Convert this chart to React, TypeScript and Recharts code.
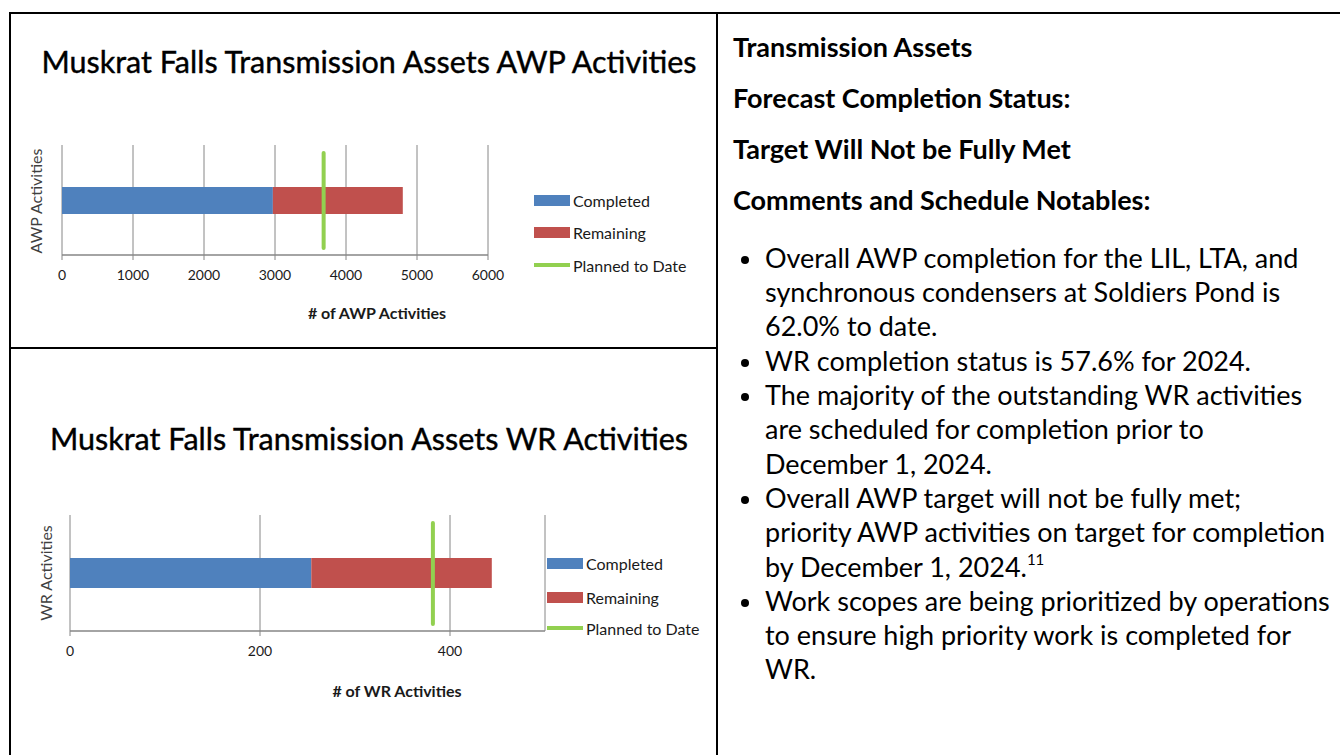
import React from 'react';
import { BarChart, Bar, XAxis, YAxis, CartesianGrid, ReferenceLine } from 'recharts';

const categories = ['AWP Activities', 'WR Activities'];
const completed = [2970, 254];
const remaining = [1830, 190];
const plannedToDate = [3685, 382];
const awpTicks = [0, 1000, 2000, 3000, 4000, 5000, 6000];
const wrTicks = [0, 200, 400];
const axisMax = [6000, 500];
const seriesNames = ['Completed', 'Remaining', 'Planned to Date'];
const chartTitles = [
  'Muskrat Falls Transmission Assets AWP Activities',
  'Muskrat Falls Transmission Assets WR Activities',
];
const axisTitles = ['# of AWP Activities', '# of WR Activities'];

const headings = [
  'Transmission Assets',
  'Forecast Completion Status:',
  'Target Will Not be Fully Met',
  'Comments and Schedule Notables:',
];
const bullets: string[][] = [
  ['Overall AWP completion for the LIL, LTA, and', 'synchronous condensers at Soldiers Pond is', '62.0% to date.'],
  ['WR completion status is 57.6% for 2024.'],
  ['The majority of the outstanding WR activities', 'are scheduled for completion prior to', 'December 1, 2024.'],
  ['Overall AWP target will not be fully met;', 'priority AWP activities on target for completion', 'by December 1, 2024.'],
  ['Work scopes are being prioritized by operations', 'to ensure high priority work is completed for', 'WR.'],
];
const footnote = { bullet: 3, mark: '11' };

const COLORS = { completed: '#4F81BD', remaining: '#C0504D', planned: '#92D050', grid: '#868686' };
const FONT = 'Lato, Calibri, "Noto Sans", sans-serif';

type Geo = {
  top: number; height: number; left: number; right: number; plotTop: number; plotBottom: number;
  barSize: number; titleY: number; axisTitle: [number, number]; yLabel: [number, number];
  legend: [number, number, number[]];
};

const geos: Geo[] = [
  { top: 0, height: 340, left: 62, right: 488, plotTop: 145, plotBottom: 255, barSize: 27, titleY: 61,
    axisTitle: [377, 312], yLabel: [35, 201], legend: [534, 573, [200, 232, 265]] },
  { top: 349, height: 400, left: 70, right: 545, plotTop: 515, plotBottom: 631, barSize: 30, titleY: 438,
    axisTitle: [397, 690], yLabel: [45, 573], legend: [547, 586, [563, 597, 628]] },
];

const PlannedShape = (p: any) => (
  <line x1={p.x1} x2={p.x2} y1={Math.min(p.y1, p.y2) + 8} y2={Math.max(p.y1, p.y2) - 7}
    stroke={COLORS.planned} strokeWidth={4} strokeLinecap="round" />
);

function ActivityChart({ i }: { i: number }) {
  const g = geos[i];
  const data = [{ name: categories[i], completed: completed[i], remaining: remaining[i] }];
  const ticks = i === 0 ? awpTicks : wrTicks;
  const legendColors = [COLORS.completed, COLORS.remaining, COLORS.planned];
  return (
    <>
      <div style={{ position: 'absolute', left: 369, top: g.titleY, transform: 'translate(-50%,-50%)', whiteSpace: 'nowrap',
        fontFamily: FONT, fontSize: 30.5, color: '#000', WebkitTextStroke: '0.4px #000' }}>{chartTitles[i]}</div>
      <div style={{ position: 'absolute', left: 0, top: g.top }}>
        <BarChart layout="vertical" width={720} height={g.height} data={data}
          margin={{ top: g.plotTop - g.top, bottom: g.top + g.height - g.plotBottom - 30, left: g.left, right: 720 - g.right }}>
          <CartesianGrid horizontal={false} stroke={COLORS.grid} />
          <XAxis type="number" domain={[0, axisMax[i]]} ticks={ticks} height={30} interval={0}
            axisLine={{ stroke: COLORS.grid, strokeWidth: 1.5 }} tickLine={{ stroke: COLORS.grid }} tickSize={5} tickMargin={10}
            tick={{ fontSize: 14, fill: '#1a1a1a', fontFamily: FONT }} />
          <YAxis type="category" dataKey="name" hide />
          <Bar dataKey="completed" stackId="a" fill={COLORS.completed} barSize={g.barSize} isAnimationActive={false} />
          <Bar dataKey="remaining" stackId="a" fill={COLORS.remaining} barSize={g.barSize} isAnimationActive={false} />
          <ReferenceLine x={plannedToDate[i]} shape={PlannedShape} />
        </BarChart>
      </div>
      <div style={{ position: 'absolute', left: g.axisTitle[0], top: g.axisTitle[1], transform: 'translate(-50%,-50%)',
        whiteSpace: 'nowrap', fontFamily: FONT, fontSize: 16, fontWeight: 700, color: '#1a1a1a' }}>{axisTitles[i]}</div>
      <div style={{ position: 'absolute', left: g.yLabel[0], top: g.yLabel[1], transform: 'translate(-50%,-50%) rotate(-90deg)',
        whiteSpace: 'nowrap', fontFamily: FONT, fontSize: 16, color: '#404040' }}>{categories[i]}</div>
      {seriesNames.map((s, k) => (
        <div key={s} style={{ position: 'absolute', left: g.legend[0], top: g.legend[2][k] - 11, height: 22,
          display: 'flex', alignItems: 'center', fontFamily: FONT, fontSize: 16, color: '#1a1a1a', whiteSpace: 'nowrap' }}>
          <span style={{ display: 'inline-block', width: g.legend[1] - g.legend[0] - 3, height: k === 2 ? 4 : 11,
            background: legendColors[k], marginRight: 3 }} />
          {s}
        </div>
      ))}
    </>
  );
}

export default function App() {
  const lineH = 34.3;
  let lineIdx = 0;
  return (
    <div style={{ position: 'absolute', left: 0, top: 0, width: 1340, height: 755, overflow: 'hidden', background: '#fff' }}>
      <div style={{ position: 'absolute', left: 9, top: 12, width: 1400, height: 2, background: '#000' }} />
      <div style={{ position: 'absolute', left: 9, top: 12, width: 2, height: 800, background: '#000' }} />
      <div style={{ position: 'absolute', left: 716, top: 12, width: 2, height: 800, background: '#000' }} />
      <div style={{ position: 'absolute', left: 9, top: 347, width: 709, height: 2, background: '#000' }} />
      <ActivityChart i={0} />
      <ActivityChart i={1} />
      {headings.map((h, k) => (
        <div key={h} style={{ position: 'absolute', left: 733, top: 47 + k * 51 - 17, lineHeight: '34px', fontFamily: FONT,
          fontWeight: 700, fontSize: 27, color: '#000', whiteSpace: 'nowrap' }}>{h}</div>
      ))}
      {bullets.map((b, bi) =>
        b.map((ln, li) => {
          const cy = 258 + lineIdx * lineH;
          lineIdx += 1;
          return (
            <React.Fragment key={`${bi}-${li}`}>
              {li === 0 && (
                <span style={{ position: 'absolute', left: 741, top: cy - 2, width: 8, height: 8, borderRadius: '50%', background: '#000' }} />
              )}
              <div style={{ position: 'absolute', left: 765, top: cy - lineH / 2, lineHeight: `${lineH}px`, fontFamily: FONT,
                fontSize: 27, color: '#000', whiteSpace: 'nowrap' }}>
                {ln}
                {bi === footnote.bullet && li === b.length - 1 && (
                  <sup style={{ fontSize: 15, verticalAlign: 'top', position: 'relative', top: -8 }}>{footnote.mark}</sup>
                )}
              </div>
            </React.Fragment>
          );
        })
      )}
    </div>
  );
}
